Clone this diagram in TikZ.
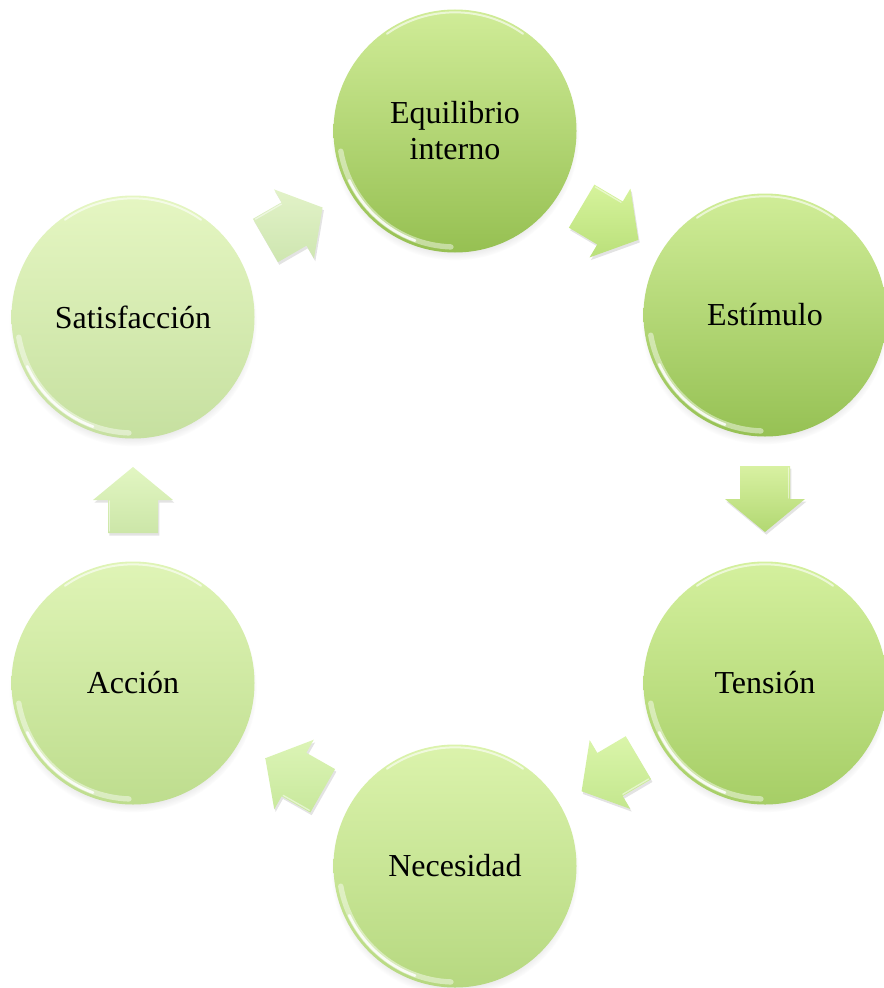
\documentclass[tikz,border=0pt]{standalone}
\usepackage{fontspec}
\setmainfont{Liberation Serif}
\usetikzlibrary{shadows,calc}
\definecolor{eqT}{RGB}{208,236,152}\definecolor{eqB}{RGB}{150,192,82}
\definecolor{esT}{RGB}{208,237,152}\definecolor{esB}{RGB}{150,193,84}
\definecolor{teT}{RGB}{212,240,158}\definecolor{teB}{RGB}{166,206,102}
\definecolor{neT}{RGB}{219,243,172}\definecolor{neB}{RGB}{182,216,128}
\definecolor{acT}{RGB}{223,244,182}\definecolor{acB}{RGB}{190,221,142}
\definecolor{saT}{RGB}{229,246,194}\definecolor{saB}{RGB}{198,224,160}
\definecolor{a1T}{RGB}{226,242,200}\definecolor{a1B}{RGB}{206,230,176}
\definecolor{a2T}{RGB}{214,243,156}\definecolor{a2B}{RGB}{186,224,122}
\definecolor{a3T}{RGB}{216,241,162}\definecolor{a3B}{RGB}{178,216,114}
\definecolor{a4T}{RGB}{218,245,170}\definecolor{a4B}{RGB}{196,231,142}
\definecolor{a5T}{RGB}{220,244,182}\definecolor{a5B}{RGB}{200,232,156}
\definecolor{a6T}{RGB}{226,246,194}\definecolor{a6B}{RGB}{204,230,168}
\tikzset{
  bub/.style 2 args={circle, minimum size=182.25pt, inner sep=0pt, align=center,
    font=\fontsize{24}{27}\selectfont, top color=#1, bottom color=#2,
    circular drop shadow={shadow xshift=0pt, shadow yshift=-4pt, opacity=0.35, shadow scale=1.02},
    path picture={
      \draw[white, line width=4pt, opacity=0.45, line cap=round]
        ([shift={(190:87pt)}]path picture bounding box.center) arc[start angle=190, end angle=268, radius=87pt];
      \draw[white, line width=2pt, opacity=0.85, line cap=round]
        ([shift={(205:87.5pt)}]path picture bounding box.center) arc[start angle=205, end angle=250, radius=87.5pt];
      \draw[white, line width=1.5pt, opacity=0.6, line cap=round]
        ([shift={(55:89pt)}]path picture bounding box.center) arc[start angle=55, end angle=125, radius=89pt];
    }},
  pics/blockarr/.style n args={2}{code={
    \path[top color=#1, bottom color=#2,
      drop shadow={opacity=0.22, shadow xshift=1pt, shadow yshift=-2pt}]
      (-33,-25) -- (0,-25) -- (0,-40) -- (33,0) -- (0,40) -- (0,25) -- (-33,25) -- cycle;
    \draw[white, opacity=0.5, line width=1pt, line cap=round] (-31,-23.5) -- (-1,-23.5);
  }},
  link/.style={pos=0.5, sloped, allow upside down}
}
\begin{document}
\begin{tikzpicture}[x=0.75pt, y=-0.75pt]
\useasboundingbox (0,0) rectangle (883,988);
\node[bub={eqT}{eqB}] (eq) at (455,131) {Equilibrio\\interno};
\node[bub={esT}{esB}] (es) at (765,315) {Estímulo};
\node[bub={teT}{teB}] (te) at (765,683) {Tensión};
\node[bub={neT}{neB}] (ne) at (455,866) {Necesidad};
\node[bub={acT}{acB}] (ac) at (133,683) {Acción};
\node[bub={saT}{saB}] (sa) at (133,317) {Satisfacción};
\path (sa) -- (eq) pic[link]{blockarr={a1T}{a1B}};
\path (eq) -- (es) pic[link]{blockarr={a2T}{a2B}};
\path (es) -- (te) pic[link]{blockarr={a3T}{a3B}};
\path (te) -- (ne) pic[link]{blockarr={a4T}{a4B}};
\path (ne) -- (ac) pic[link]{blockarr={a5T}{a5B}};
\path (ac) -- (sa) pic[link]{blockarr={a6T}{a6B}};
\end{tikzpicture}
\end{document}
